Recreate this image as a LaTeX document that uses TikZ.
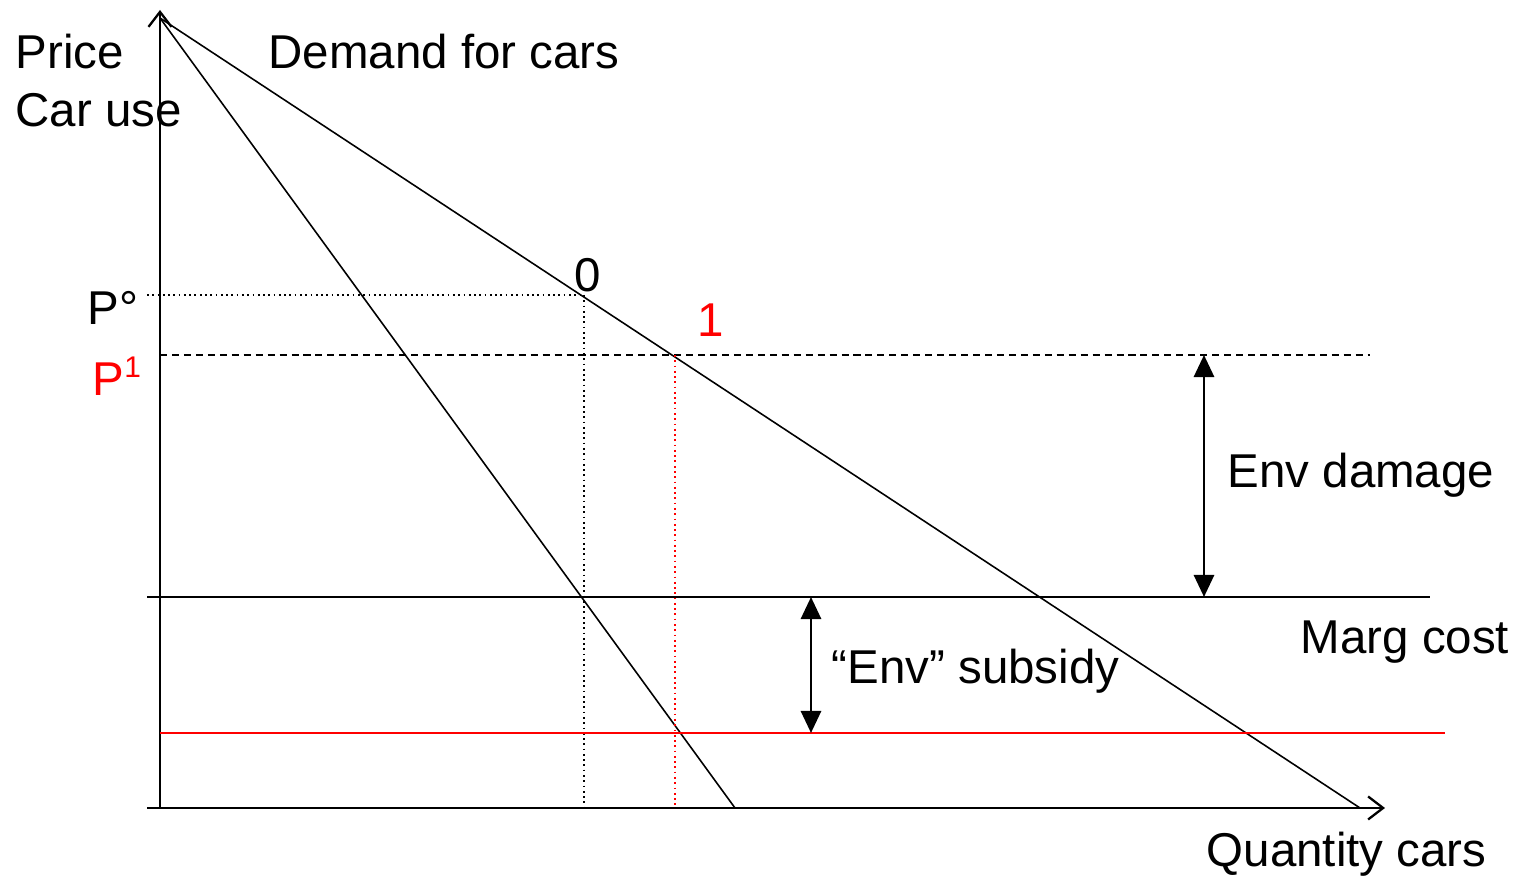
\documentclass[tikz,border=0pt]{standalone}
\usepackage{fontspec}
\setmainfont{Liberation Sans}
\usetikzlibrary{arrows.meta,positioning}

\begin{document}
\begin{tikzpicture}[
  x=0.01cm, y=-0.01cm,
  lbl/.style={anchor=base west, inner sep=0pt, font=\fontsize{13.5}{16}\selectfont},
  axis/.style={line width=0.65pt, -{Straight Barb[length=1.5mm,width=2.3mm]}},
  curve/.style={line width=0.45pt},
  dotline/.style={line width=0.5pt, dash pattern=on 0.5pt off 1pt},
  dashline/.style={line width=0.5pt, dash pattern=on 2pt off 1.4pt},
  gap/.style={line width=0.8pt, {Triangle[length=2.2mm,width=2mm]}-{Triangle[length=2.2mm,width=2mm]}}
]
\useasboundingbox (0,0) rectangle (1514,877);

% axes
\coordinate (yfoot) at (160,808);
\coordinate (ytop) at (160,10);
\coordinate (xfoot) at (147,808);
\coordinate (xend) at (1385,808);
\draw[axis] (yfoot) -- (ytop);
\draw[axis] (xfoot) -- (xend);

% demand curves
\coordinate (apex) at (160,18);
\coordinate (steepend) at (735,808);
\coordinate (demandend) at (1360,808);
\draw[curve] (apex) -- (steepend);
\draw[curve] (apex) -- (demandend);

% price levels
\coordinate (p0left) at (147,295);
\coordinate (pt0) at (584,297);
\coordinate (pt0foot) at (584,808);
\coordinate (p1left) at (160,355);
\coordinate (pt1) at (675,357);
\coordinate (pt1foot) at (675,808);
\coordinate (p1right) at (1370,355);
\draw[dotline] (p0left) -- (pt0 |- p0left);
\draw[dotline] (pt0 |- p0left) -- (pt0foot);
\draw[dashline] (p1left) -- (p1right);
\draw[dotline, red] (pt1 |- p1left) -- (pt1foot);

% cost lines
\coordinate (mcleft) at (147,597);
\coordinate (mcright) at (1430,597);
\coordinate (subleft) at (160,733);
\coordinate (subright) at (1445,733);
\draw[line width=0.5pt] (mcleft) -- (mcright);
\draw[line width=0.5pt, red] (subleft) -- (subright);

% gaps
\coordinate (dmgtop) at (1204,355);
\coordinate (dmgbot) at (1204,597);
\coordinate (subtop) at (811,597);
\coordinate (subbot) at (811,733);
\draw[gap] (dmgtop) -- (dmgbot);
\draw[gap] (subtop) -- (subbot);

% labels
\node[lbl] (price) at (15,69) {Price};
\node[lbl] (caruse) at (15,127) {Car use};
\node[lbl] (demand) at (268,69) {Demand for cars};
\node[lbl] (plab0) at (87,325) {P°};
\node[lbl, red] (plab1) at (92,396) {P\raisebox{0.75ex}{\fontsize{8.5}{10}\selectfont 1}};
\node[lbl] (lab0) at (574,292) {0};
\node[lbl, red] (lab1) at (697,337) {1};
\node[lbl] (envdmg) at (1227,488) {Env damage};
\node[lbl] (margcost) at (1300,654) {Marg cost};
\node[lbl] (subsidy) at (831,684) {“Env” subsidy};
\node[lbl] (qty) at (1206,867) {Quantity cars};
\end{tikzpicture}
\end{document}
